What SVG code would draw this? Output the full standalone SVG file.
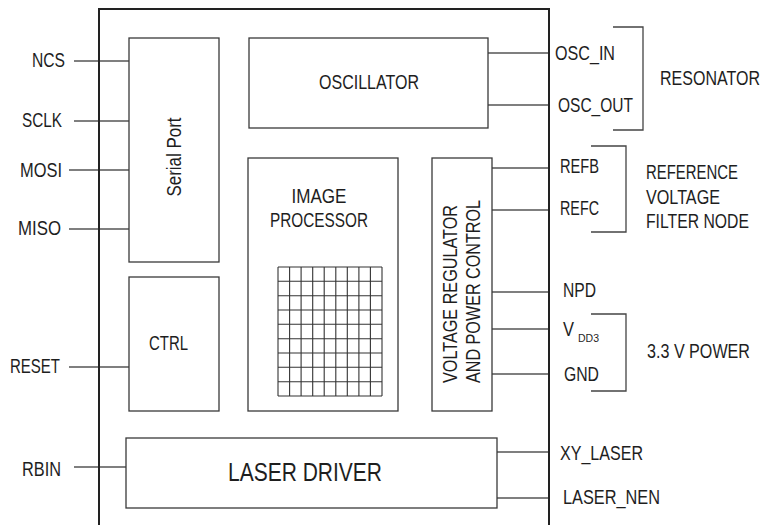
<svg xmlns="http://www.w3.org/2000/svg" width="762" height="525" viewBox="0 0 762 525">
<style>
text{font-family:"Liberation Sans",Arial,sans-serif;font-size:19.5px;fill:#1e1e1e}
.box{fill:#fff;stroke:#3a3a3a;stroke-width:1.3}
.c{stroke:#555;stroke-width:1.3;fill:none}
.br{stroke:#444;stroke-width:1.3;fill:none}
.g{stroke:#333;stroke-width:1.1}
.m{text-anchor:middle}
.e{text-anchor:end}
</style>
<rect width="762" height="525" fill="#fff"/>
<g id="connectors">
<line class="c" x1="74" y1="61" x2="129" y2="61"/>
<line class="c" x1="74" y1="121" x2="129" y2="121"/>
<line class="c" x1="69" y1="170" x2="129" y2="170"/>
<line class="c" x1="69" y1="229" x2="129" y2="229"/>
<line class="c" x1="69" y1="367" x2="129" y2="367"/>
<line class="c" x1="74" y1="467" x2="126" y2="467"/>
<line class="c" x1="488" y1="53" x2="549" y2="53"/>
<line class="c" x1="488" y1="105" x2="549" y2="105"/>
<line class="c" x1="492" y1="168" x2="549" y2="168"/>
<line class="c" x1="492" y1="210" x2="549" y2="210"/>
<line class="c" x1="492" y1="292" x2="549" y2="292"/>
<line class="c" x1="492" y1="329" x2="549" y2="329"/>
<line class="c" x1="492" y1="374" x2="549" y2="374"/>
<line class="c" x1="497" y1="452" x2="549" y2="452"/>
<line class="c" x1="497" y1="498" x2="549" y2="498"/>
<polyline class="br" points="613,27 643,27 643,130 613,130"/>
<polyline class="br" points="591,146 626,146 626,232 591,232"/>
<polyline class="br" points="591,314 626,314 626,391 591,391"/>
</g>
<g id="chip">
<polyline points="99,525 99,9 549,9 549,525" fill="none" stroke="#222" stroke-width="2"/>
</g>
<g id="serial-port">
<rect class="box" x="129" y="38" width="90" height="224"/>
<text class="m" transform="translate(181,157) rotate(-90)" textLength="79" lengthAdjust="spacingAndGlyphs">Serial Port</text>
</g>
<g id="oscillator">
<rect class="box" x="249" y="38" width="239" height="90"/>
<text class="m" x="369" y="89" textLength="100" lengthAdjust="spacingAndGlyphs">OSCILLATOR</text>
</g>
<g id="image-processor">
<rect class="box" x="248" y="158" width="150" height="253"/>
<text class="m" x="319" y="203" textLength="55" lengthAdjust="spacingAndGlyphs">IMAGE</text>
<text class="m" x="319" y="227" textLength="98" lengthAdjust="spacingAndGlyphs">PROCESSOR</text>
<g class="g">
<line x1="278" y1="267" x2="278" y2="396"/>
<line x1="289.6" y1="267" x2="289.6" y2="396"/>
<line x1="301.1" y1="267" x2="301.1" y2="396"/>
<line x1="312.7" y1="267" x2="312.7" y2="396"/>
<line x1="324.2" y1="267" x2="324.2" y2="396"/>
<line x1="335.8" y1="267" x2="335.8" y2="396"/>
<line x1="347.3" y1="267" x2="347.3" y2="396"/>
<line x1="358.9" y1="267" x2="358.9" y2="396"/>
<line x1="370.4" y1="267" x2="370.4" y2="396"/>
<line x1="382" y1="267" x2="382" y2="396"/>
<line x1="278" y1="267" x2="382" y2="267"/>
<line x1="278" y1="281.3" x2="382" y2="281.3"/>
<line x1="278" y1="295.7" x2="382" y2="295.7"/>
<line x1="278" y1="310" x2="382" y2="310"/>
<line x1="278" y1="324.3" x2="382" y2="324.3"/>
<line x1="278" y1="338.7" x2="382" y2="338.7"/>
<line x1="278" y1="353" x2="382" y2="353"/>
<line x1="278" y1="367.3" x2="382" y2="367.3"/>
<line x1="278" y1="381.7" x2="382" y2="381.7"/>
<line x1="278" y1="396" x2="382" y2="396"/>
</g>
</g>
<g id="voltage-regulator">
<rect class="box" x="432" y="158" width="60" height="253"/>
<text transform="translate(457,383) rotate(-90)" textLength="178" lengthAdjust="spacingAndGlyphs">VOLTAGE REGULATOR</text>
<text transform="translate(480,383) rotate(-90)" textLength="183" lengthAdjust="spacingAndGlyphs">AND POWER CONTROL</text>
</g>
<g id="ctrl">
<rect class="box" x="129" y="277" width="90" height="134"/>
<text x="149" y="350" textLength="39" lengthAdjust="spacingAndGlyphs">CTRL</text>
</g>
<g id="laser-driver">
<rect class="box" x="126" y="438" width="371" height="70"/>
<text x="228" y="481" style="font-size:26px" textLength="154" lengthAdjust="spacingAndGlyphs">LASER DRIVER</text>
</g>
<g id="labels">
<text x="32" y="67" textLength="33" lengthAdjust="spacingAndGlyphs">NCS</text>
<text x="22" y="127" textLength="40" lengthAdjust="spacingAndGlyphs">SCLK</text>
<text x="20" y="177" textLength="42" lengthAdjust="spacingAndGlyphs">MOSI</text>
<text x="18" y="235" textLength="43" lengthAdjust="spacingAndGlyphs">MISO</text>
<text x="10" y="373" textLength="50" lengthAdjust="spacingAndGlyphs">RESET</text>
<text x="22" y="476" textLength="39" lengthAdjust="spacingAndGlyphs">RBIN</text>
<text x="555" y="60" textLength="60" lengthAdjust="spacingAndGlyphs">OSC_IN</text>
<text x="558" y="112" textLength="75" lengthAdjust="spacingAndGlyphs">OSC_OUT</text>
<text x="660" y="85" textLength="100" lengthAdjust="spacingAndGlyphs">RESONATOR</text>
<text x="560" y="173" textLength="39" lengthAdjust="spacingAndGlyphs">REFB</text>
<text x="560" y="215" textLength="39" lengthAdjust="spacingAndGlyphs">REFC</text>
<text x="646" y="179" textLength="92" lengthAdjust="spacingAndGlyphs">REFERENCE</text>
<text x="646" y="204" textLength="74" lengthAdjust="spacingAndGlyphs">VOLTAGE</text>
<text x="646" y="228" textLength="103" lengthAdjust="spacingAndGlyphs">FILTER NODE</text>
<text x="563" y="297" textLength="33" lengthAdjust="spacingAndGlyphs">NPD</text>
<text x="563" y="336" textLength="11" lengthAdjust="spacingAndGlyphs">V</text>
<text x="578" y="342" style="font-size:10px" textLength="21" lengthAdjust="spacingAndGlyphs">DD3</text>
<text x="564" y="381" textLength="35" lengthAdjust="spacingAndGlyphs">GND</text>
<text x="647" y="358" textLength="103" lengthAdjust="spacingAndGlyphs">3.3 V POWER</text>
<text x="560" y="460" textLength="83" lengthAdjust="spacingAndGlyphs">XY_LASER</text>
<text x="563" y="504" textLength="97" lengthAdjust="spacingAndGlyphs">LASER_NEN</text>
</g>
</svg>
